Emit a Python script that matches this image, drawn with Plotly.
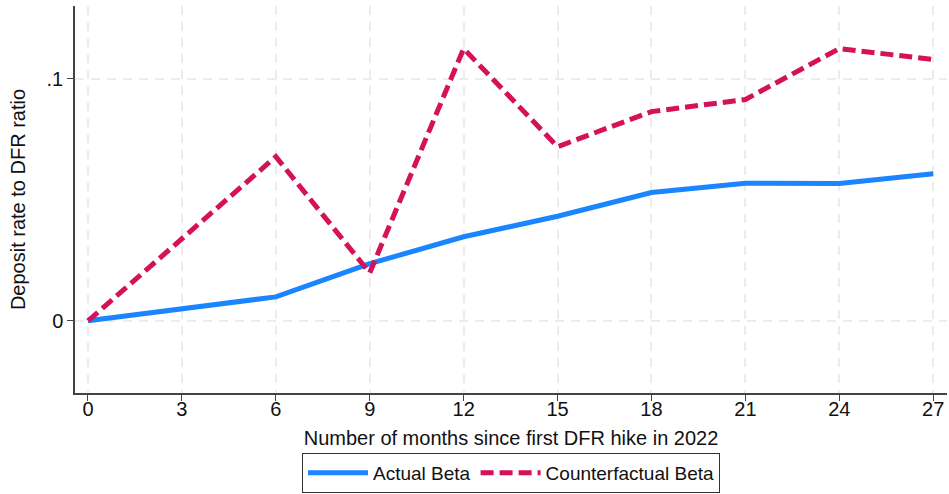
import plotly.graph_objects as go

months = [0, 3, 6, 9, 12, 15, 18, 21, 24, 27]
actual_beta = [0.0, 0.005, 0.0099, 0.0236, 0.0347, 0.0432, 0.053, 0.0568, 0.0567, 0.0607]
counterfactual_beta = [0.0, 0.034, 0.0678, 0.0198, 0.1124, 0.0719, 0.0864, 0.0914, 0.1124, 0.1079]

y_tick_vals = [0, 0.1]
y_tick_text = ["0", ".1"]

FONT = "Liberation Sans, Arial, sans-serif"
FS = 20

fig = go.Figure()
fig.add_trace(go.Scatter(
    x=months, y=actual_beta, mode="lines", name="Actual Beta",
    line=dict(color="#1A85FF", width=5),
))
fig.add_trace(go.Scatter(
    x=months, y=counterfactual_beta, mode="lines", name="Counterfactual Beta",
    line=dict(color="#D41159", width=5, dash="13px,6px"),
))

grid = dict(showgrid=True, gridcolor="#ECECEC", gridwidth=1.5, griddash="9px,7px")

fig.update_layout(
    width=949, height=494,
    margin=dict(l=75, r=2, t=6, b=101, autoexpand=False),
    paper_bgcolor="white", plot_bgcolor="white",
    font=dict(family=FONT, size=FS, color="#111111"),
    xaxis=dict(
        range=[-0.415, 27.44], tickvals=months, ticks="outside", ticklen=6,
        tickcolor="#444444", showline=True, linecolor="#444444", linewidth=1.5,
        zeroline=False, automargin=False, ticklabelstandoff=-9,
        title=dict(text="Number of months since first DFR hike in 2022", standoff=12,
                   font=dict(size=FS)),
        **grid,
    ),
    yaxis=dict(
        range=[-0.0298, 0.130], tickvals=y_tick_vals, ticktext=y_tick_text,
        ticks="outside", ticklen=6, tickcolor="#444444", showline=True,
        linecolor="#444444", linewidth=1.5, zeroline=False, automargin=False,
        title=dict(text="Deposit rate to DFR ratio", standoff=16, font=dict(size=FS)),
        **grid,
    ),
    legend=dict(
        orientation="h", x=0.5, xanchor="center", y=-0.155, yanchor="top",
        bordercolor="#333333", borderwidth=1, bgcolor="white",
        font=dict(size=19), itemwidth=60, tracegroupgap=0,
    ),
)

fig.write_html("out.html")
